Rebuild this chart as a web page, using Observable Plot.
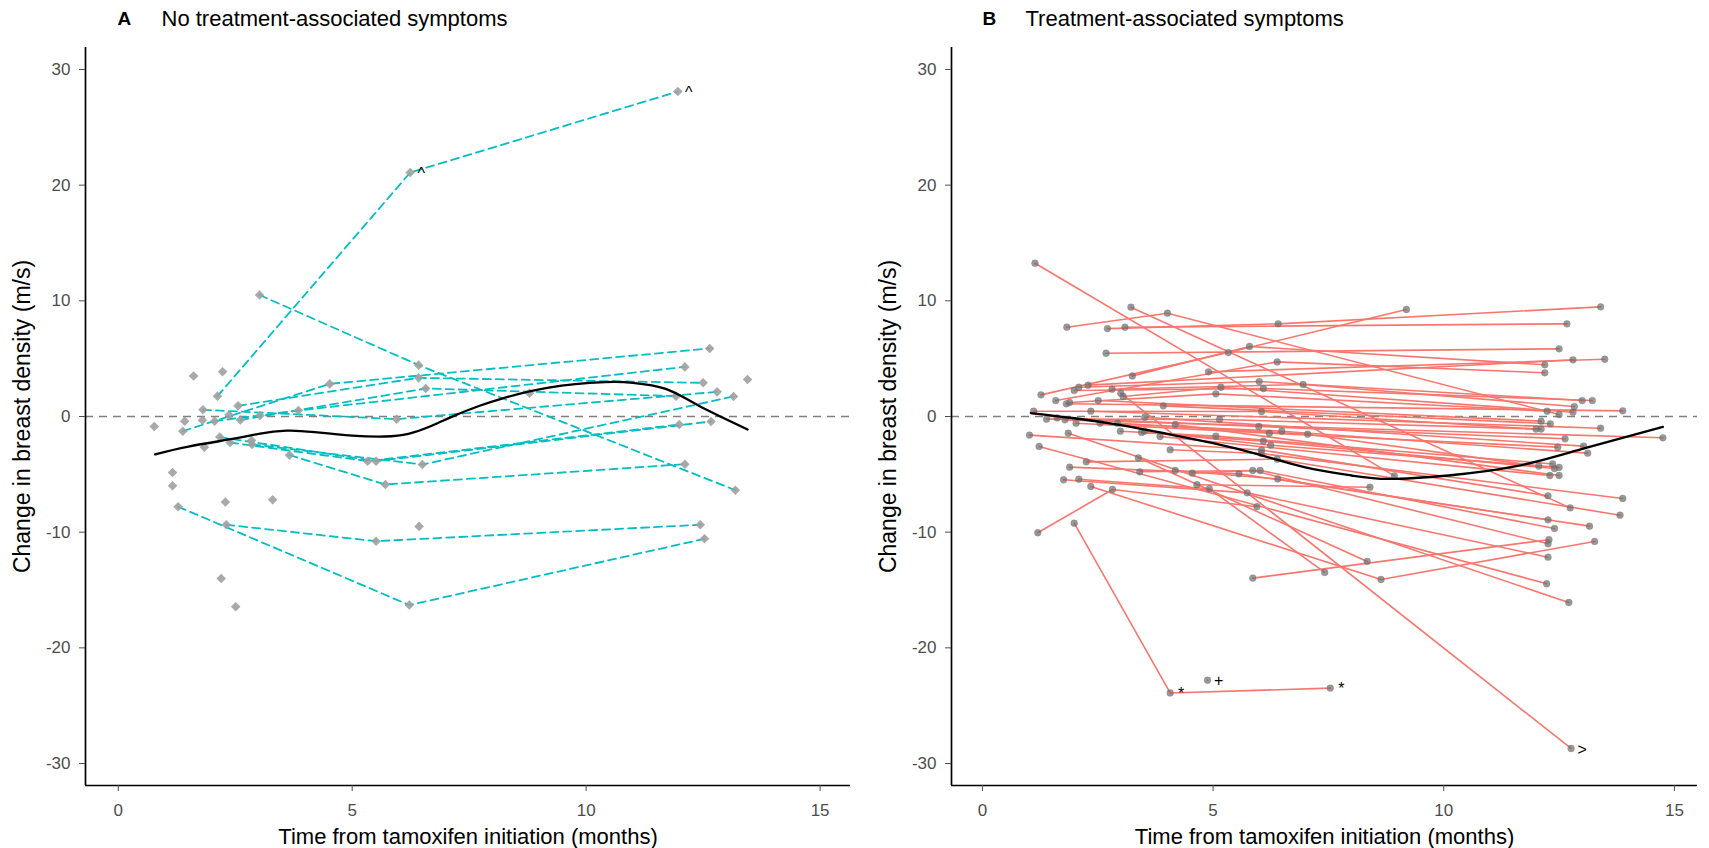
<!DOCTYPE html>
<html><head><meta charset="utf-8">
<script src="https://cdn.jsdelivr.net/npm/d3@7"></script>
<script src="https://cdn.jsdelivr.net/npm/@observablehq/plot@0.6"></script>
<style>
body{margin:0;background:#fff;font-family:"Liberation Sans",Arial,sans-serif;}
#wrap{position:relative;width:1709px;height:848px;overflow:hidden;}
#pa{position:absolute;left:0;top:0;}
#pb{position:absolute;left:854px;top:0;}
</style></head><body><div id="wrap"><div id="pa"></div><div id="pb"></div></div>
<script>
// ---------- Panel A: No treatment-associated symptoms ----------
const aSubject = ["a1","a1","a1","a2","a2","a2","a3","a3","a3","a4","a4","a4","a5","a5","a5","a6","a6","a6","a7","a7","a7","a8","a8","a8","a9","a9","a9","a10","a10","a10","a11","a11","a11","a12","a12","a12","a13","a13","a13",
  "s1","s2","s3","s4","s5","s6","s7","s8","s9","s10","s11","s12","s13","s14","s15","s16","s17","s18"];
const aTime = [2.12,6.24,11.96, 3.02,6.42,13.19, 1.28,6.22,12.53, 2.31,5.51,12.44, 3.66,5.71,12.11, 1.38,4.52,12.64, 2.56,6.42,12.5, 2.61,6.57,11.92, 1.81,5.95,12.8, 2.86,6.5,13.15, 2.39,5.33,11.99, 2.17,5.51,12.67, 2.06,3.85,12.11,
  0.77,1.61,2.23,1.42,1.80,2.85,1.84,1.16,1.16,2.29,3.3,2.2,2.51,6.43,13.45,2.37,3.03,8.79];
const aChange = [1.76,21.09,28.09, 10.5,4.44,-6.37, -7.8,-16.3,-10.57, -9.36,-10.78,-9.36, -3.34,-5.88,-4.12, -1.27,2.82,5.88, 0.92,3.34,2.91, -0.3,2.42,1.76, 0.58,-0.23,2.13, -2.42,-4.15,1.73, -2.25,-3.86,-0.69, -1.78,-3.86,-0.43, -0.4,0.52,4.29,
  -0.86,3.5,3.86,-0.4,-0.32,-2.07,-2.65,-4.84,-5.99,-7.4,-7.2,-14.0,-16.45,-9.5,3.2,0.12,0.09,2.02];
const aSmoothTime = [0.79,1.5,2.5,3.0,3.6,4.2,5.0,5.7,6.2,6.7,7.2,7.74,8.2,9.2,10.4,11.0,11.7,12.4,13.45];
const aSmoothChange = [-3.28,-2.6,-1.9,-1.5,-1.22,-1.35,-1.65,-1.73,-1.5,-0.8,0.1,0.95,1.55,2.5,2.97,2.91,2.39,0.95,-1.12];
const aLabelTime = [6.24,11.96];
const aLabelChange = [21.09,28.09];
const aLabelText = ["^","^"];

// ---------- Panel B: Treatment-associated symptoms ----------
const bSubject = [
 "b1","b1","b2","b2","b3","b3","b3","b4","b4","b4","b5","b5","b6","b6","b6","b7","b7","b8","b8","b8","b9","b9","b9",
 "b10","b10","b11","b11","b12","b12","b12","b13","b13","b13","b14","b14","b14","b15","b15","b16","b16","b16","b17","b17","b17",
 "b18","b18","b19","b19","b20","b20","b21","b21","b21","b22","b22","b23","b23","b23","b24","b24","b24","b25","b25",
 "b26","b26","b26","b27","b27","b28","b28","b28","b29","b29","b29","b30","b30","b30","b31","b31","b31","b32","b32","b32",
 "b33","b33","b34","b34","b35","b35","b35","b36","b36","b37","b37","b38","b38","b38","b39","b39","b40","b40","b40",
 "b41","b41","b41","b42","b42","b42","b43","b43","b43","b44","b44","b44","b45","b45","b45","b46","b46","b46","b47","b47","b47",
 "b48","b48","b48","b49","b49","b49","b50","b50","b51","b51","b52"];
const bTime = [
 1.14,8.93, 3.22,12.74, 1.83,4.01,12.5, 2.71,6.41,13.4, 3.09,12.67, 1.27,5.33,9.19, 2.68,12.5, 3.25,5.79,12.19, 1.59,6.39,12.19,
 2.29,12.8, 4.9,13.49, 2.09,6.0,13.0, 1.99,6.09,13.22, 2.81,6.95,12.83, 3.0,12.76, 3.05,5.17,12.8, 1.89,5.06,12.24,
 1.82,13.88, 2.51,12.11, 3.92,12.31, 1.11,6.05,12.0, 2.35,13.4, 1.39,5.14,12.11, 1.62,5.99,12.63, 1.79,14.75,
 2.03,6.22,12.47, 3.52,13.03, 2.55,6.49,13.12, 2.93,7.05,12.06, 2.99,5.06,12.36, 3.45,6.09,12.4, 3.51,6.25,12.5,
 3.85,12.3, 4.18,12.5, 1.02,6.05,12.26, 1.86,12.71, 1.23,12.23, 4.07,6.05,13.88, 3.38,8.34, 2.25,6.39,13.82,
 1.89,5.56,12.26, 3.41,6.02,12.4, 4.18,6.4,13.16, 4.55,5.86,12.26, 1.76,5.74,12.26, 2.09,4.92,7.42, 2.35,8.64,13.27,
 1.2,2.82,5.95, 1.99,4.07,7.54, 5.86,12.28, 4.65,8.4, 4.88];
const bChange = [
 13.25,-5.13, 9.45,-7.9, 7.72,8.93,0.17, 7.6,8.01,9.48, 7.72,8.01, 1.87,5.53,9.25, 5.47,5.85, 3.51,6.05,4.47, 1.38,4.72,3.78,
 2.71,4.9, 3.86,4.95, 2.53,3.02,1.38, 2.25,2.42,1.38, 2.36,2.77,0.86, 2.02,-28.7, 1.73,2.53,0.37, 1.21,1.96,0.46,
 1.1,0.49, 1.38,-0.4, 0.92,-0.63, 0.46,0.43,-1.09, 0.46,-1.01, -0.23,-0.26,-1.09, -0.12,-0.86,-1.93, -0.29,-1.84,
 -0.58,-1.44,-2.65, -0.06,-2.56, -0.58,-1.27,-3.17, -0.58,-1.53,-4.29, -1.27,-1.7,-4.1, -1.38,-2.13,-4.5, -1.27,-2.48,-4.4,
 -1.73,-5.1, -0.69,-5.1, -1.61,-2.9,-6.86, -1.44,-16.08, -2.59,-14.46, -2.88,-3.2,-7.09, -3.57,-12.53, -3.92,-3.69,-8.53,
 -4.38,-4.96,-8.93, -4.78,-4.67,-9.68, -4.67,-5.4,-9.48, -4.9,-4.67,-11.0, -5.47,-6.6,-12.16, -5.42,-6.25,-13.48, -6.05,-14.09,-10.8,
 -10.05,-6.31,-7.8, -9.22,-23.9,-23.48, -13.97,-10.65, -5.9,-6.11, -22.8];
const bSmoothTime = [1.05,2.0,3.0,4.0,5.0,6.0,7.0,8.0,8.8,10.1,11.57,13.0,14.75];
const bSmoothChange = [0.3,-0.15,-0.75,-1.5,-2.3,-3.3,-4.4,-5.1,-5.4,-5.1,-4.3,-2.8,-0.9];
const bLabelTime = [4.07,4.88,7.54,12.76];
const bLabelChange = [-23.9,-22.8,-23.48,-28.7];
const bLabelText = ["*","+","*",">"];

const yTicks = [-30,-20,-10,0,10,20,30];
const xTicks = [0,5,10,15];

const rowsA = aTime.map((t,i)=>({id:aSubject[i], t, c:aChange[i]}));
const rowsB = bTime.map((t,i)=>({id:bSubject[i], t, c:bChange[i]}));
const smA = aSmoothTime.map((t,i)=>({t, c:aSmoothChange[i]}));
const smB = bSmoothTime.map((t,i)=>({t, c:bSmoothChange[i]}));
const labA = aLabelTime.map((t,i)=>({t, c:aLabelChange[i], s:aLabelText[i]}));
const labB = bLabelTime.map((t,i)=>({t, c:bLabelChange[i], s:bLabelText[i]}));

const FONT = "Liberation Sans, Arial, sans-serif";
const YD = [-31.9, 31.9];
const fmt = d => String(d);

function panel({sm, lab, xDomain, width, marginLeft, marginRight, letter, title, lineMarks, dotMark}) {
  return Plot.plot({
    width, height: 848,
    marginLeft, marginRight, marginTop: 47, marginBottom: 63,
    style: {fontFamily: FONT, background: "white", overflow: "visible"},
    x: {domain: xDomain},
    y: {domain: YD},
    marks: [
      Plot.ruleY([0], {stroke: "#7f7f7f", strokeWidth: 1.5, strokeDasharray: "8,6"}),
      ...lineMarks,
      dotMark,
      Plot.line(sm, {x: "t", y: "c", curve: "natural", stroke: "black", strokeWidth: 2.3}),
      Plot.text(lab, {x: "t", y: "c", text: "s", dx: 11, dy: 1, fontSize: 16, fill: "black", textAnchor: "middle"}),
      Plot.ruleX([xDomain[0]], {stroke: "black", strokeWidth: 1.7}),
      Plot.ruleY([YD[0]], {stroke: "black", strokeWidth: 1.7}),
      Plot.axisY({ticks: yTicks, tickFormat: fmt, tickSize: 6, tickPadding: 9, fontSize: 17, color: "#4d4d4d", label: null}),
      Plot.axisX({ticks: xTicks, tickFormat: fmt, tickSize: 6, tickPadding: 12, fontSize: 17, color: "#4d4d4d", label: null}),
      Plot.text(["Change in breast density (m/s)"], {frameAnchor: "left", dx: -63, rotate: -90, textAnchor: "middle", lineAnchor: "middle", fontSize: 23, fill: "black"}),
      Plot.text(["Time from tamoxifen initiation (months)"], {frameAnchor: "bottom", dy: 51, textAnchor: "middle", lineAnchor: "middle", fontSize: 22, fill: "black"}),
      Plot.text([letter], {frameAnchor: "top-left", dx: marginLeft === 85 ? 32 : 31, dy: -28.5, lineAnchor: "middle", fontSize: 19, fontWeight: "bold", fill: "black", textAnchor: "start"}),
      Plot.text([title], {frameAnchor: "top-left", dx: marginLeft === 85 ? 76 : 74, dy: -28.5, lineAnchor: "middle", fontSize: 22, fill: "black", textAnchor: "start"})
    ]
  });
}

const plotA = panel({
  sm: smA, lab: labA, xDomain: [-0.7, 15.65], width: 854, marginLeft: 85, marginRight: 4,
  letter: "A", title: "No treatment-associated symptoms",
  lineMarks: [Plot.line(rowsA, {x: "t", y: "c", z: "id", stroke: "#00BFC4", strokeWidth: 1.8, strokeDasharray: "8,5"})],
  dotMark: Plot.dot(rowsA, {x: "t", y: "c", symbol: "diamond2", r: 4.3, fill: "#a0a0a0", fillOpacity: 0.9, stroke: "none"})
});
const plotB = panel({
  sm: smB, lab: labB, xDomain: [-0.67, 15.5], width: 855, marginLeft: 97, marginRight: 12,
  letter: "B", title: "Treatment-associated symptoms",
  lineMarks: [Plot.line(rowsB, {x: "t", y: "c", z: "id", stroke: "#F8766D", strokeWidth: 1.6})],
  dotMark: Plot.dot(rowsB, {x: "t", y: "c", r: 3.4, fill: "#6e6e6e", fillOpacity: 0.7, stroke: "#6e6e6e", strokeOpacity: 0.5, strokeWidth: 0.6})
});
document.getElementById("pa").appendChild(plotA);
document.getElementById("pb").appendChild(plotB);
</script>
</body></html>
